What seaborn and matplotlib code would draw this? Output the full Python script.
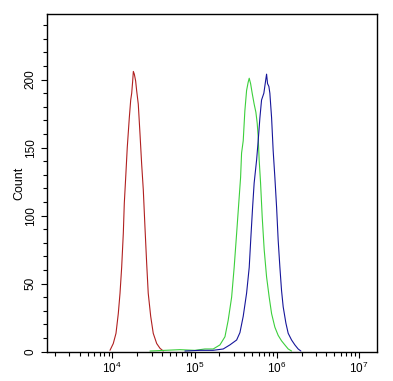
import numpy as np
import pandas as pd
import matplotlib
matplotlib.use("Agg")
import matplotlib.pyplot as plt
import matplotlib.ticker as mticker
import seaborn as sns

# log10 of fluorescence intensity and counts
red_log = [3.972, 4.012, 4.045, 4.073, 4.094, 4.114, 4.134, 4.146, 4.163, 4.182,
           4.207, 4.224, 4.236, 4.248, 4.256, 4.268, 4.284, 4.296, 4.316, 4.337,
           4.357, 4.377, 4.397, 4.418, 4.437, 4.467, 4.498, 4.540, 4.580, 4.620]
red_cnt = [1, 6, 13.5, 28, 43, 62, 87, 109, 128, 150,
           172, 185, 190, 199, 206, 204, 199, 192, 182, 160,
           138, 119, 92, 65, 43, 26, 13.5, 6, 2.5, 0.5]

green_log = [4.458, 4.640, 4.823, 5.005, 5.126, 5.227, 5.309, 5.370, 5.409, 5.451,
             5.482, 5.512, 5.540, 5.560, 5.572, 5.592, 5.612, 5.633, 5.652, 5.665,
             5.682, 5.701, 5.725, 5.746, 5.762, 5.774, 5.786, 5.803, 5.823, 5.847,
             5.876, 5.908, 5.937, 5.977, 6.017, 6.058, 6.098, 6.139, 6.180]
green_cnt = [0.5, 1, 1.5, 1, 2, 2, 5, 11, 23, 40,
             62, 87, 111, 128, 146, 155, 177, 192, 198, 201,
             197, 190, 182, 176, 168, 158, 141, 124, 99, 75,
             55, 40, 28, 18, 12, 8, 5, 2, 0.5]

blue_log = [4.883, 5.066, 5.224, 5.349, 5.430, 5.512, 5.552, 5.592, 5.633, 5.665,
            5.685, 5.706, 5.725, 5.755, 5.774, 5.795, 5.815, 5.843, 5.864, 5.876,
            5.888, 5.904, 5.916, 5.937, 5.956, 5.977, 5.998, 6.017, 6.038, 6.058,
            6.078, 6.111, 6.139, 6.180, 6.220, 6.260, 6.293]
blue_cnt = [0.5, 1, 1, 2, 5, 8.6, 14, 26, 43, 62,
            84, 106, 124, 141, 155, 172, 185, 190, 199, 204,
            197, 195, 190, 172, 148, 128, 106, 82, 62, 45,
            33, 21, 13.5, 8.6, 5, 2, 0.5]

x_tick_exps = [4, 5, 6, 7]
y_ticks = [0, 50, 100, 150, 200]

frames = []
for name, lg, ct in [("control", red_log, red_cnt),
                     ("isotype", green_log, green_cnt),
                     ("sample", blue_log, blue_cnt)]:
    frames.append(pd.DataFrame({"x": np.power(10.0, lg), "count": ct, "s": name}))
df = pd.concat(frames, ignore_index=True)

sns.set_style("ticks")
plt.rcParams["font.family"] = ["Liberation Sans", "DejaVu Sans"]
plt.rcParams["mathtext.default"] = "regular"
for k in ["text.color", "axes.labelcolor", "xtick.color", "ytick.color",
          "axes.edgecolor"]:
    plt.rcParams[k] = "black"

fig = plt.figure(figsize=(3.93, 3.81), dpi=100)
ax = fig.add_axes([0.1204, 0.0769, 0.8381, 0.8856])

palette = {"control": "#b02020", "isotype": "#3ccf3c", "sample": "#16169a"}
sns.lineplot(data=df, x="x", y="count", hue="s", palette=palette, ax=ax,
             legend=False, linewidth=0.8, sort=False, estimator=None)

ax.set_xscale("log")
ax.set_xlim(10 ** 3.21, 10 ** 7.215)
ax.set_ylim(0, 248)

ax.xaxis.set_major_locator(mticker.FixedLocator([10.0 ** e for e in x_tick_exps]))
ax.xaxis.set_major_formatter(mticker.FixedFormatter([r"$10^{%d}$" % e for e in x_tick_exps]))
ax.xaxis.set_minor_locator(mticker.LogLocator(base=10, subs=np.arange(2, 10)))
ax.xaxis.set_minor_formatter(mticker.NullFormatter())

ax.yaxis.set_major_locator(mticker.FixedLocator(y_ticks))
ax.yaxis.set_minor_locator(mticker.MultipleLocator(10))

for s in ax.spines.values():
    s.set_visible(True)
    s.set_color("black")
    s.set_linewidth(1.0)

ax.tick_params(axis="both", which="major", length=4.5, width=0.8, color="black",
               labelsize=8.5, labelcolor="black", direction="out")
ax.tick_params(axis="both", which="minor", length=2.6, width=0.8, color="black",
               direction="out")
ax.tick_params(axis="x", which="major", pad=2)
ax.tick_params(axis="y", which="major", pad=3)
for lab in ax.get_yticklabels():
    lab.set_rotation(90)
    lab.set_va("center")

ax.set_xlabel("")
ax.set_ylabel("Count", fontsize=9, labelpad=0, color="black")

fig.savefig("out.png", dpi=100)
